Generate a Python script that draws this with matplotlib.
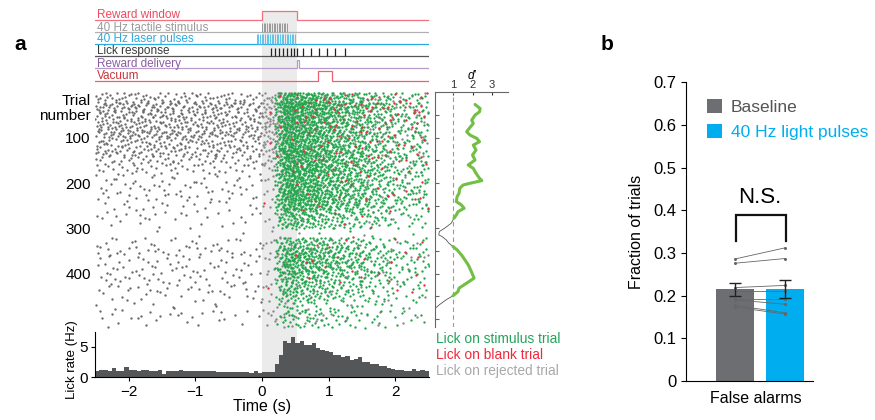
import numpy as np
import matplotlib
matplotlib.use('Agg')
import matplotlib.pyplot as plt
from matplotlib.patches import Patch
import matplotlib.transforms as mtransforms

plt.rcParams['font.family'] = ['Liberation Sans', 'DejaVu Sans']

# ---------------- data ----------------
# event panel (time in s)
event_labels = ['Reward window', '40 Hz tactile stimulus', '40 Hz laser pulses',
                'Lick response', 'Reward delivery', 'Vacuum']
event_text_colors = ['#ee4a5c', '#9a9a9a', '#29abe2', '#3a3a3a', '#8a5ca8', '#c8343a']
event_line_colors = ['#f27080', '#b0b0b0', '#29abe2', '#555555', '#b79ccb', '#ef6070']
reward_window = [0.0, 0.52]
tactile_period = [0.0, 0.40]
laser_period = [-0.08, 0.50]
pulse_rate_hz = 40
example_licks = [0.13, 0.19, 0.25, 0.31, 0.37, 0.43, 0.48, 0.52, 0.61, 0.73,
                 0.85, 0.97, 1.09, 1.25]
reward_delivery = [0.52, 0.55]
vacuum = [0.84, 1.05]

# raster: number of licks per block of 20 trials
block_start = [0, 20, 40, 60, 80, 100, 120, 140, 160, 180, 200, 220, 240,
               260, 280, 300, 320, 340, 360, 380, 400, 420, 440, 460, 480, 500]
block_size = 20
licks_pre_gray = [70, 110, 100, 100, 110, 80, 80, 55, 35, 22, 25, 25, 15,
                  20, 10, 3, 20, 30, 22, 25, 25, 25, 15, 10, 20, 8]
licks_post_gray = [40, 50, 50, 60, 50, 40, 40, 30, 20, 15, 10, 10, 10,
                   10, 8, 4, 15, 15, 15, 15, 10, 10, 10, 8, 20, 10]
licks_green = [160, 200, 175, 165, 165, 165, 185, 175, 185, 165, 175, 185, 160,
               100, 85, 5, 85, 125, 135, 125, 95, 80, 65, 30, 40, 32]
licks_red = [15, 20, 12, 15, 10, 12, 10, 12, 8, 6, 4, 8, 3,
             4, 2, 1, 4, 3, 6, 3, 5, 3, 1, 0, 0, 0]
# time profiles (relative weights per 0.5 s bin)
pre_gray_weights = [1.0, 1.0, 0.9, 0.9, 0.8]        # -2.5 .. 0 s
post_gray_weights = [0.45, 0.22, 0.13, 0.10, 0.10]  # 0 .. 2.5 s
red_weights = [0.06, 0.20, 0.25, 0.24, 0.25]        # 0 .. 2.5 s

# lick-rate histogram (Hz), 0.0625 s bins from -2.5 to 2.5 s
bin_width = 0.0625
lick_rate_pre = [1.09, 1.25, 1.14, 0.98, 1.6, 0.98, 1.09, 1.7, 1.14, 1.14,
                 1.09, 1.2, 1.2, 1.09, 0.98, 1.2, 0.55, 0.98, 1.03, 1.03,
                 1.25, 0.98, 1.03, 0.98, 0.98, 1.03, 0.98, 1.03, 0.98, 0.8,
                 0.92, 0.92, 0.92, 0.87, 0.92, 0.87, 0.87, 0.76, 1.09, 0.76]
lick_rate_post = [0.82, 0.85, 0.9, 2.2, 3.6, 5.9, 5.6, 6.6, 5.6, 6.0,
                  5.3, 5.2, 5.6, 4.8, 4.5, 4.35, 4.1, 3.6, 3.6, 3.3,
                  3.4, 2.9, 3.0, 3.3, 2.45, 2.45, 2.2, 2.1, 1.9, 1.9,
                  1.6, 1.35, 1.25, 1.25, 1.0, 1.1, 1.35, 1.1, 1.15, 1.1]

# running d'
dprime_trial = [26.5, 35.3, 42.7, 50, 61, 68.4, 79.4, 86.7, 94.1, 101.4, 108.7,
                116.1, 127.1, 138.1, 149.1, 160.1, 167.5, 178.5, 189.5, 194.6,
                200.5, 204.2, 211.5, 222.5, 229.9, 240.9, 248.2, 255.6, 262.9,
                270.3, 277.6, 288.6, 299.6, 307, 314.3, 318, 325.3, 332.7, 340,
                347.4, 358.4, 369.4, 380.4, 391.4, 402.4, 409.8, 417.1, 424.5,
                431.8, 439.2, 448.7, 457.5, 468.5, 475.9, 483.2]
dprime_value = [2.13, 2.39, 2.36, 2.13, 1.96, 2.04, 1.83, 1.70, 1.87, 2.22, 2.36,
                2.04, 2.18, 2.00, 2.13, 1.78, 2.04, 2.18, 2.36, 2.48,
                1.87, 1.52, 1.35, 1.31, 1.21, 1.17, 1.43, 1.57, 1.26,
                1.17, 1.05, 0.91, 0.57, 0.30, 0.27, 0.44, 0.65, 0.79, 1.00,
                1.21, 1.43, 1.61, 1.78, 1.90, 2.01, 2.08, 1.83, 1.57,
                1.31, 1.26, 1.00, 0.65, 0.30, 0.10, 0.05]
dprime_criterion = 1.0

# panel b
conditions = ['Baseline', '40 Hz light pulses']
cond_colors = ['#6d6e71', '#00aeef']
fa_mean = [0.215, 0.215]
fa_sem = [0.015, 0.021]
fa_baseline = [0.286, 0.276, 0.219, 0.211, 0.193, 0.190, 0.177, 0.173]
fa_light = [0.312, 0.287, 0.224, 0.211, 0.193, 0.180, 0.160, 0.157]
bracket_top = 0.389
bracket_bottom = 0.327

# ---------------- layout helpers ----------------
W, H = 875, 420
fig = plt.figure(figsize=(W / 100, H / 100), dpi=100)


def box(l, t, r, b):
    return [l / W, 1 - b / H, (r - l) / W, (b - t) / H]


XL, XR = 95.3, 428.7
TMIN, TMAX = -2.5, 2.5

# grey shading for reward window across panel a
ax_bg = fig.add_axes(box(XL, 10.7, XR, 377.3))
ax_bg.set_xlim(TMIN, TMAX)
ax_bg.set_ylim(0, 1)
ax_bg.axvspan(reward_window[0], reward_window[1], color='#ebebeb', lw=0)
ax_bg.axis('off')

# ---------------- event panel ----------------
ax_ev = fig.add_axes(box(XL, 4, XR, 84), facecolor='none')
ax_ev.set_xlim(TMIN, TMAX)
ax_ev.set_ylim(84, 4)
ax_ev.axis('off')
row_y = [20, 32.3, 44, 56, 68.3, 80.7]
row_h = [9.3, 9.0, 9.7, 7.7, 8.0, 9.7]


def step(ax, on_off, y, h, color, lw=0.9):
    xs = [TMIN, on_off[0], on_off[0], on_off[1], on_off[1], TMAX]
    ys = [y, y, y - h, y - h, y, y]
    ax.plot(xs, ys, color=color, lw=lw, solid_joinstyle='miter')


step(ax_ev, reward_window, row_y[0], row_h[0], event_line_colors[0])
ax_ev.plot([TMIN, TMAX], [row_y[1]] * 2, color=event_line_colors[1], lw=0.9)
tp = np.arange(tactile_period[0], tactile_period[1], 1 / pulse_rate_hz)
ax_ev.vlines(tp, row_y[1] - row_h[1], row_y[1], color='#9a9a9a', lw=0.7)
ax_ev.plot([TMIN, TMAX], [row_y[2]] * 2, color=event_line_colors[2], lw=0.9)
lp = np.arange(laser_period[0], laser_period[1], 1 / pulse_rate_hz)
ax_ev.vlines(lp, row_y[2] - row_h[2], row_y[2], color='#5cc3ec', lw=0.7)
ax_ev.plot([TMIN, TMAX], [row_y[3]] * 2, color=event_line_colors[3], lw=0.9)
ax_ev.vlines(example_licks, row_y[3] - row_h[3], row_y[3], color='#222222', lw=0.9)
step(ax_ev, reward_delivery, row_y[4], row_h[4], event_line_colors[4])
step(ax_ev, vacuum, row_y[5], row_h[5], event_line_colors[5])
for lab, c, y in zip(event_labels, event_text_colors, row_y):
    ax_ev.text(TMIN + 0.02, y - 1.6, lab, color=c, fontsize=8.5, ha='left', va='baseline')

# ---------------- raster ----------------
ax_r = fig.add_axes(box(XL, 88, XR, 330), facecolor='none')
ax_r.set_xlim(TMIN, TMAX)
ax_r.set_ylim(524, -10)
for s in ax_r.spines.values():
    s.set_visible(False)
ax_r.set_xticks([])
ax_r.set_yticks([100, 200, 300, 400])
ax_r.tick_params(axis='y', length=0, pad=3.2, labelsize=11)
blend = mtransforms.blended_transform_factory(ax_r.transAxes, ax_r.transData)
ax_r.text(-0.013, 18, 'Trial', transform=blend, ha='right', va='center', fontsize=11)
ax_r.text(-0.013, 52, 'number', transform=blend, ha='right', va='center', fontsize=11)


def radical_inverse(n, base):
    n = np.asarray(n, dtype=np.int64).copy()
    out = np.zeros(n.shape, float)
    f = 1.0 / base
    while np.any(n > 0):
        out += f * (n % base)
        n //= base
        f /= base
    return out


def inv_cdf(u, edges, weights):
    w = np.asarray(weights, float)
    c = np.concatenate([[0.0], np.cumsum(w) / w.sum()])
    return np.interp(u, c, edges)


def raster_points(counts, edges, weights, seed, bases):
    ts, trs = [], []
    for k, (b0, n) in enumerate(zip(block_start, counts)):
        if n == 0:
            continue
        idx = np.arange(n) + 1 + seed + 211 * k
        u = radical_inverse(idx, bases[0])
        v = radical_inverse(idx, bases[1])
        ts.append(inv_cdf(u, edges, weights))
        trs.append(b0 + np.floor(v * block_size))
    return np.concatenate(ts), np.concatenate(trs)


green_edges = np.arange(3, 41) * bin_width
t_pg, r_pg = raster_points(licks_pre_gray, np.linspace(TMIN, 0, 6), pre_gray_weights, 7, (2, 3))
t_og, r_og = raster_points(licks_post_gray, np.linspace(0, TMAX, 6), post_gray_weights, 50, (3, 5))
t_gr, r_gr = raster_points(licks_green, green_edges, lick_rate_post[3:], 13, (2, 5))
t_rd, r_rd = raster_points(licks_red, np.linspace(0, TMAX, 6), red_weights, 91, (5, 3))
mk = dict(ls='none', marker='o', ms=1.7, mew=0)
ax_r.plot(t_pg, r_pg, color='#6a6a6a', **mk)
ax_r.plot(t_og, r_og, color='#888888', **mk)
ax_r.plot(t_gr, r_gr, color='#1fa64a', **mk)
ax_r.plot(t_rd, r_rd, color='#f0283c', **mk)

# ---------------- d' panel ----------------
ax_d = fig.add_axes(box(435, 92, 508, 327), facecolor='none')
ax_d.set_xlim(0.077, 3.82)
ax_d.set_ylim(517.6, -1)
ax_d.spines['right'].set_visible(False)
ax_d.spines['bottom'].set_visible(False)
for s in ('left', 'top'):
    ax_d.spines[s].set_color('#666666')
    ax_d.spines[s].set_linewidth(0.8)
ax_d.xaxis.tick_top()
ax_d.set_xticks([1, 2, 3])
ax_d.tick_params(axis='x', direction='in', length=2, pad=1.5, labelsize=8, colors='#333333')
ax_d.set_yticks(np.arange(50, 501, 50))
ax_d.set_yticklabels([])
ax_d.tick_params(axis='y', direction='in', length=3, color='#666666')
ax_d.xaxis.set_label_position('top')
ax_d.set_xlabel("d\u2032", style='italic', fontsize=8.5, labelpad=1)
ax_d.axvline(dprime_criterion, color='#999999', lw=0.8, ls=(0, (4, 3)))
dv = np.asarray(dprime_value)
dt = np.asarray(dprime_trial)
ax_d.plot(dv, dt, color='#555555', lw=0.6)
ax_d.plot(np.where(dv >= dprime_criterion, dv, np.nan), dt, color='#72bf44', lw=2.2,
          solid_capstyle='round')

# ---------------- lick-rate histogram ----------------
ax_h = fig.add_axes(box(XL, 331.7, XR, 377.3), facecolor='none')
rates = lick_rate_pre + lick_rate_post
bin_left = TMIN + np.arange(len(rates)) * bin_width
ax_h.bar(bin_left, rates, width=bin_width, align='edge', color='#555657', lw=0)
ax_h.set_xlim(TMIN, TMAX)
ax_h.set_ylim(0, 7.45)
ax_h.spines['top'].set_visible(False)
ax_h.spines['right'].set_visible(False)
ax_h.set_xticks([-2, -1, 0, 1, 2])
ax_h.set_yticks([0, 5])
ax_h.tick_params(length=3, width=0.8, labelsize=11, pad=2.5)
ax_h.set_xlabel('Time (s)', fontsize=11.5, labelpad=0)
ax_h.set_ylabel('Lick rate (Hz)', fontsize=9.5)
ax_h.yaxis.set_label_coords(-0.052, 0.38)

legend_texts = ['Lick on stimulus trial', 'Lick on blank trial', 'Lick on rejected trial']
legend_colors = ['#22a45a', '#f0283c', '#a8a8a8']
for txt, c, yy in zip(legend_texts, legend_colors, [339, 355, 371]):
    fig.text(436.5 / W, 1 - yy / H, txt, color=c, fontsize=9.9, ha='left', va='center')

# ---------------- panel b ----------------
ax_b = fig.add_axes(box(685.7, 82.3, 813, 381))
x = np.arange(len(conditions))
ax_b.bar(x, fa_mean, width=0.772, color=cond_colors, zorder=1)
for b, l in zip(fa_baseline, fa_light):
    ax_b.plot(x, [b, l], color='#666666', lw=0.6, marker='o', ms=2.2, mew=0, zorder=2)
ax_b.errorbar(x, fa_mean, yerr=fa_sem, fmt='none', ecolor='#222222', elinewidth=1,
              capsize=4.5, capthick=1, zorder=3)
ax_b.plot([x[0] + 0.014, x[0] + 0.014, x[1] + 0.02, x[1] + 0.02],
          [bracket_bottom, bracket_top, bracket_top, bracket_bottom],
          color='#111111', lw=1.6, solid_joinstyle='miter')
ax_b.text(x.mean(), bracket_top + 0.016, 'N.S.', ha='center', va='bottom', fontsize=16)
ax_b.set_xlim(-0.986, 1.56)
ax_b.set_ylim(0, 0.7)
ax_b.spines['top'].set_visible(False)
ax_b.spines['right'].set_visible(False)
ax_b.set_xticks([])
ax_b.set_yticks(np.arange(0, 0.71, 0.1))
ax_b.set_yticklabels(['0', '0.1', '0.2', '0.3', '0.4', '0.5', '0.6', '0.7'])
ax_b.tick_params(axis='y', length=3.5, width=0.8, labelsize=12, pad=3)
ax_b.set_ylabel('Fraction of trials', fontsize=11.5)
ax_b.yaxis.set_label_coords(-0.33, 0.5)
ax_b.set_xlabel('False alarms', fontsize=11.5)
ax_b.xaxis.set_label_coords(0.55, -0.035)
handles = [Patch(facecolor=c, edgecolor='none') for c in cond_colors]
ax_b.legend(handles, conditions, loc='upper left', bbox_to_anchor=(0.17, 0.945),
            frameon=False, handlelength=0.85, handleheight=0.85, handletextpad=0.5,
            labelspacing=0.55, borderpad=0, borderaxespad=0, fontsize=12.5,
            labelcolor=['#555555', '#00aeef'])

fig.text(20 / W, 1 - 45 / H, 'a', fontsize=15, fontweight='bold', ha='center', va='center')
fig.text(607 / W, 1 - 45 / H, 'b', fontsize=15, fontweight='bold', ha='center', va='center')

fig.savefig('out.png', dpi=100)
